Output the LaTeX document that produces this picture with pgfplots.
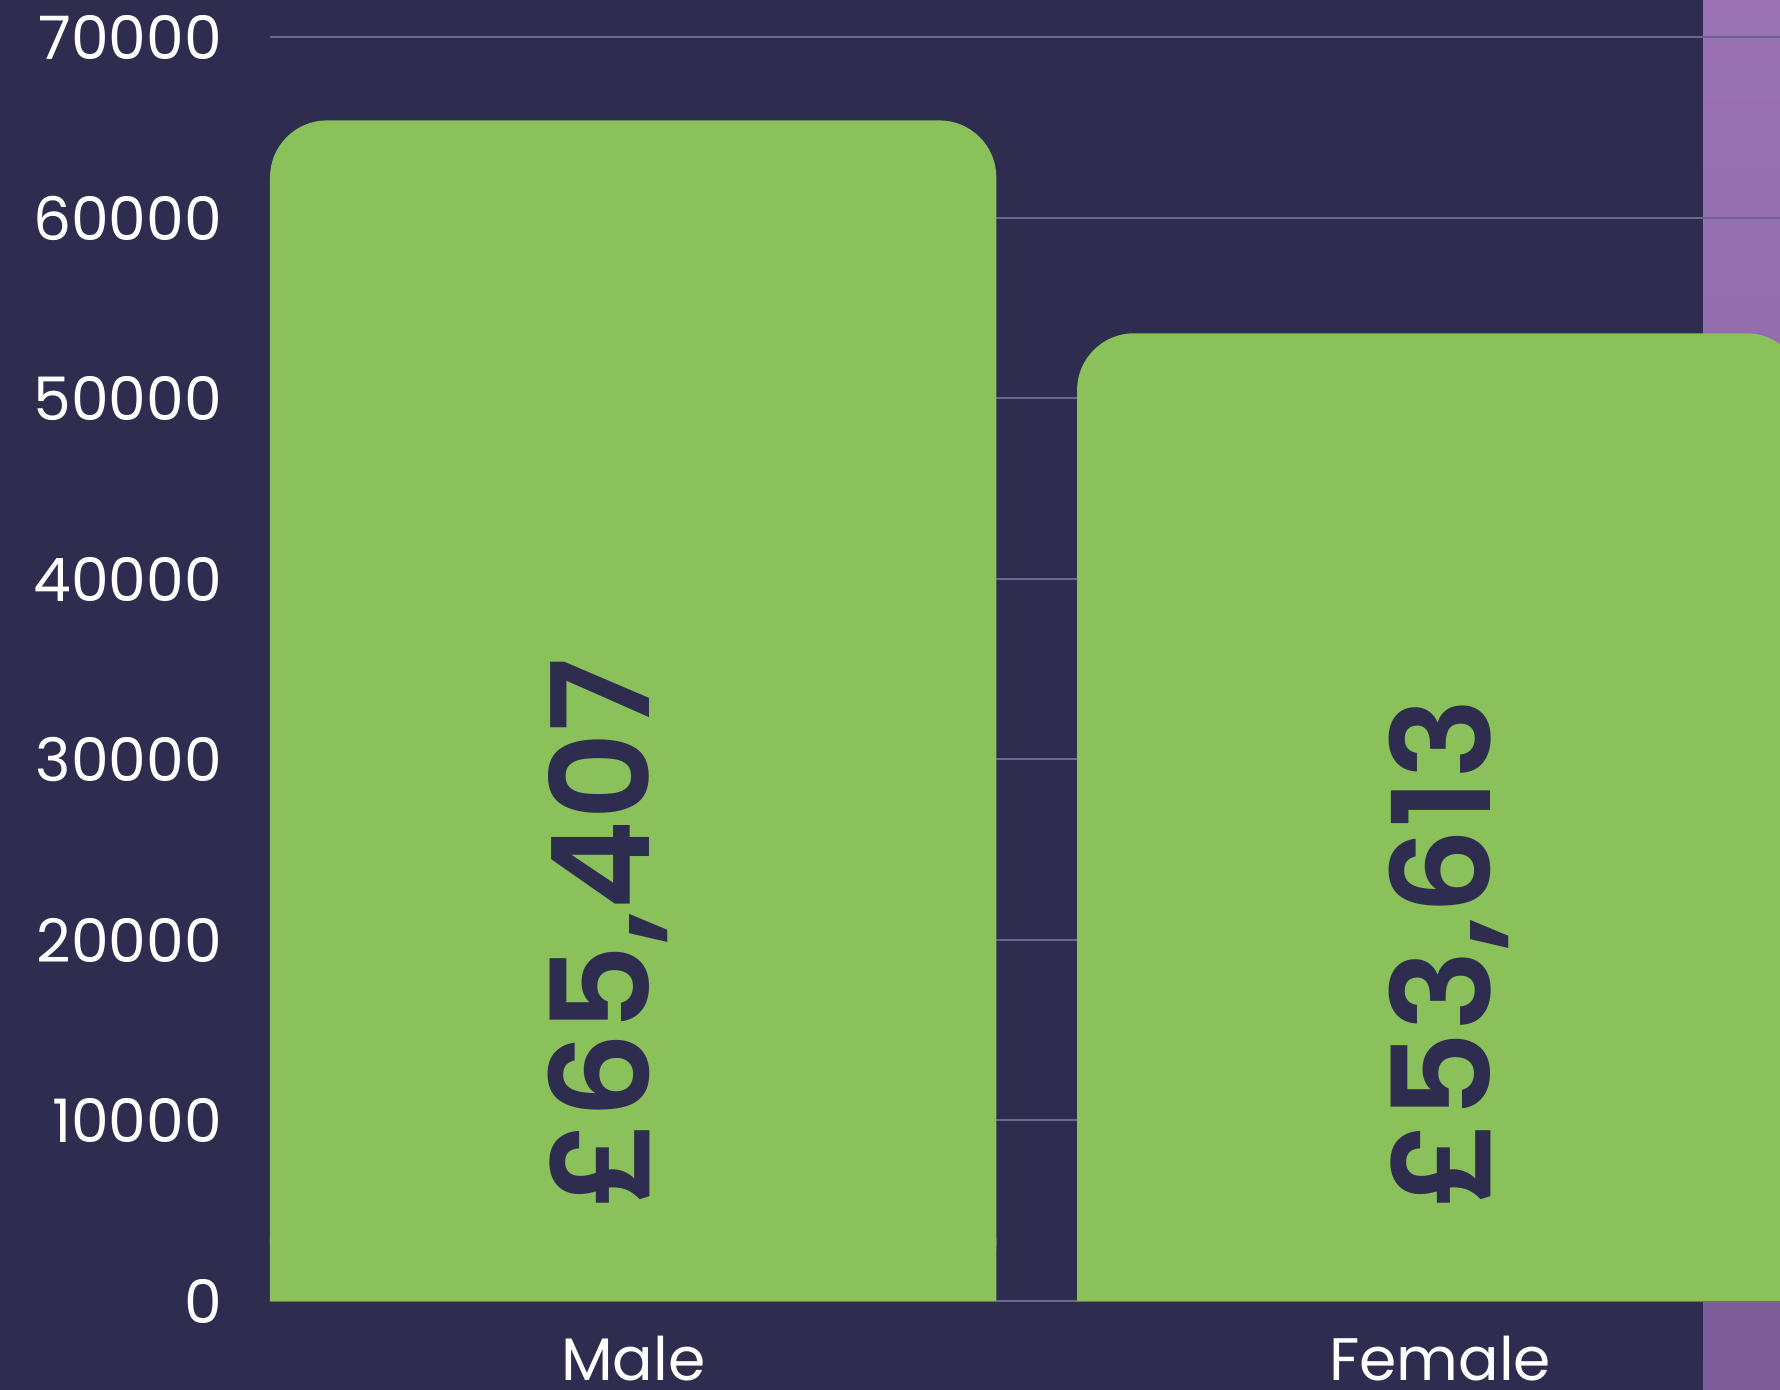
\documentclass[border=0pt]{standalone}
\usepackage{pgfplots}
\pgfplotsset{compat=1.18}
\usepackage{fontspec}
\setmainfont{Poppins}
\newfontfamily\valfont{Poppins SemiBold}
\definecolor{navy}{HTML}{2E2C4F}
\definecolor{barg}{HTML}{8AC15B}
\definecolor{gridc}{HTML}{6A6690}
\definecolor{purpT}{HTML}{9A72B3}
\definecolor{purpB}{HTML}{7C5D98}
\begin{document}
\begin{tikzpicture}
\useasboundingbox (0,0) rectangle (445pt,347.5pt);
\fill[navy] (0,0) rectangle (445pt,347.5pt);
\shade[top color=purpT, bottom color=purpB] (425.75pt,0) rectangle (445pt,347.5pt);
\begin{axis}[
  at={(67.5pt,22.25pt)}, anchor=south west,
  scale only axis, width=377.5pt, height=315.875pt,
  xmin=-0.45, xmax=1.421, ymin=0, ymax=70000,
  axis line style={draw=none},
  major tick style={draw=none},
  xtick={0,1}, xticklabels={Male,Female},
  ytick={0,10000,...,70000},
  scaled y ticks=false,
  ymajorgrids, grid style={gridc, line width=0.5pt},
  /pgf/number format/assume math mode=true,
  yticklabel style={/pgf/number format/1000 sep={}, font=\fontsize{15}{18}\selectfont, text=white, anchor=east, inner sep=0pt, xshift=-11.8pt},
  xticklabel style={font=\fontsize{15}{18}\selectfont, text=white, anchor=base, inner sep=0pt, yshift=-20pt},
  clip=true,
]
\addplot[ybar, bar width=0.9, bar shift=0pt, fill=barg, draw=none, rounded corners=14.25pt] coordinates {(0,65407) (1,53613)};
\addplot[ybar, bar width=0.9, bar shift=0pt, fill=barg, draw=none] coordinates {(0,3500) (1,3500)};
\node[rotate=90, anchor=base west, inner sep=0pt, text=navy, font=\valfont\fontsize{34}{40}\selectfont] at (axis cs:0.02,5100) {£65,407};
\node[rotate=90, anchor=base west, inner sep=0pt, text=navy, font=\valfont\fontsize{34}{40}\selectfont] at (axis cs:1.0626,5100) {£53,613};
\end{axis}
\end{tikzpicture}
\end{document}
